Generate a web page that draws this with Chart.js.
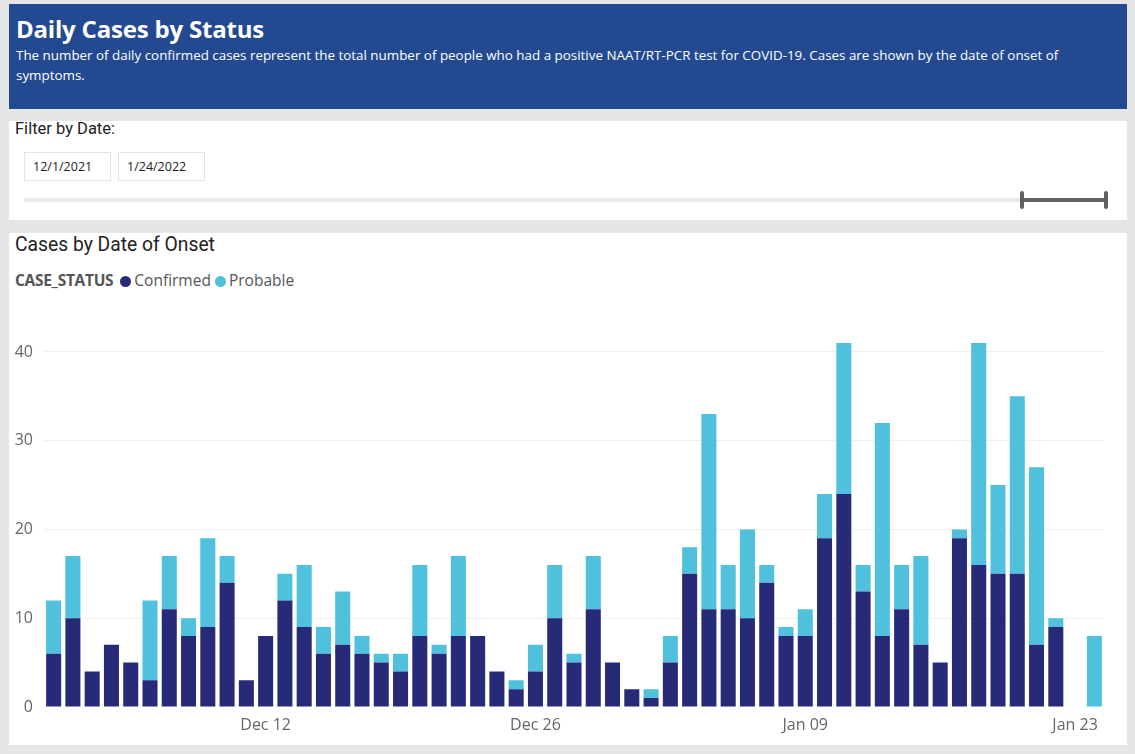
<!DOCTYPE html>
<html>
<head>
<meta charset="utf-8">
<script src="https://cdn.jsdelivr.net/npm/chart.js@4.4.1/dist/chart.umd.min.js"></script>
<style>
  html, body { margin: 0; padding: 0; }
  body { width: 1135px; height: 754px; background: #e6e6e6; position: relative; overflow: hidden; font-family: "Open Sans", sans-serif; }
  .panel { position: absolute; left: 9px; width: 1118px; background: #fff; }
  #header { top: 4px; height: 105px; background: #234a90; color: #fff; }
  #header h1 { position: absolute; left: 7px; top: 8px; margin: 0; font-size: 24px; font-weight: 700; letter-spacing: -0.2px; }
  #header p { position: absolute; left: 7px; top: 41px; margin: 0; font-size: 13.4px; line-height: 20px; white-space: nowrap; }
  #filter { top: 121px; height: 99px; }
  #filter .lbl { position: absolute; left: 6px; top: -2px; font-family: Roboto, sans-serif; font-size: 16.5px; color: #222; }
  .datebox { position: absolute; top: 31px; height: 29px; border: 1px solid #e3e3e3; box-sizing: border-box; font-size: 12.5px; color: #222; line-height: 27px; padding-left: 8px; }
  #track { position: absolute; left: 15px; top: 77px; width: 1083px; height: 4px; background: #eaeaea; }
  #range { position: absolute; left: 1013px; top: 77px; width: 84px; height: 4px; background: #5f5f5f; }
  .handle { position: absolute; top: 70px; width: 4px; height: 18px; border-radius: 2px; background: #5f5f5f; }
  #chartbox { top: 233px; height: 512px; }
  #ctitle { position: absolute; left: 6px; top: 0px; font-family: Roboto, sans-serif; font-size: 19.3px; color: #222; }
  #legend { position: absolute; left: 6px; top: 36px; font-size: 15.5px; color: #555; white-space: nowrap; }
  #legend b { color: #555; font-weight: 700; margin-right: 7px; letter-spacing: -0.3px; }
  #legend .dot { display: inline-block; width: 11px; height: 11px; border-radius: 50%; vertical-align: -1px; margin-right: 3px; }
  #wrap { position: absolute; left: 0; top: 54px; width: 1118px; height: 458px; }
</style>
</head>
<body>
<div id="header" class="panel">
  <h1>Daily Cases by Status</h1>
  <p>The number of daily confirmed cases represent the total number of people who had a positive NAAT/RT-PCR test for COVID-19. Cases are shown by the date of onset of<br>symptoms.</p>
</div>
<div id="filter" class="panel">
  <div class="lbl">Filter by Date:</div>
  <div class="datebox" style="left:15px;width:87px;">12/1/2021</div>
  <div class="datebox" style="left:109px;width:87px;">1/24/2022</div>
  <div id="track"></div>
  <div id="range"></div>
  <div class="handle" style="left:1011px"></div>
  <div class="handle" style="left:1095px"></div>
</div>
<div id="chartbox" class="panel">
  <div id="ctitle">Cases by Date of Onset</div>
  <div id="legend"><b>CASE_STATUS</b><span class="dot" style="background:#272a77"></span>Confirmed <span class="dot" style="background:#4fc1dc"></span>Probable</div>
  <div id="wrap"><canvas id="myChart"></canvas></div>
</div>
<script>
// one entry per day, Dec 1 2021 .. Jan 24 2022
const days = ['Dec 01','Dec 02','Dec 03','Dec 04','Dec 05','Dec 06','Dec 07','Dec 08','Dec 09','Dec 10',
  'Dec 11','Dec 12','Dec 13','Dec 14','Dec 15','Dec 16','Dec 17','Dec 18','Dec 19','Dec 20',
  'Dec 21','Dec 22','Dec 23','Dec 24','Dec 25','Dec 26','Dec 27','Dec 28','Dec 29','Dec 30','Dec 31',
  'Jan 01','Jan 02','Jan 03','Jan 04','Jan 05','Jan 06','Jan 07','Jan 08','Jan 09','Jan 10',
  'Jan 11','Jan 12','Jan 13','Jan 14','Jan 15','Jan 16','Jan 17','Jan 18','Jan 19','Jan 20',
  'Jan 21','Jan 22','Jan 23','Jan 24'];
const confirmed = [6,10,4,7,5,3,11,8,9,14, 3,8,12,9,6,7,6,5,4,8, 6,8,8,4,2,4,10,5,11,5,2,
  1,5,15,11,11,10,14,8,8,19, 24,13,8,11,7,5,19,16,15,15, 7,9,0,0];
const probable = [6,7,0,0,0,9,6,2,10,3, 0,0,3,7,3,6,2,1,2,8, 1,9,0,0,1,3,6,1,6,0,0,
  1,3,3,22,5,10,2,1,3,5, 17,3,24,5,10,0,1,25,10,20, 20,1,0,8];
const shownTicks = ['Dec 12','Dec 26','Jan 09','Jan 23'];
const yTicks = [0,10,20,30,40];

const ctx = document.getElementById('myChart');
new Chart(ctx, {
  type: 'bar',
  data: {
    labels: days,
    datasets: [
      { label: 'Confirmed', data: confirmed, backgroundColor: '#272a77', barPercentage: 0.78, categoryPercentage: 1 },
      { label: 'Probable', data: probable, backgroundColor: '#4fc1dc', barPercentage: 0.78, categoryPercentage: 1 }
    ]
  },
  options: {
    responsive: true,
    maintainAspectRatio: false,
    animation: false,
    layout: { padding: { top: 3, right: 23 } },
    plugins: { legend: { display: false }, tooltip: { enabled: false } },
    scales: {
      x: {
        stacked: true,
        grid: { display: false },
        border: { display: false },
        ticks: {
          autoSkip: false, maxRotation: 0, padding: 1,
          color: '#666', font: { family: 'Open Sans', size: 16 },
          callback: function (v, i) { return shownTicks.includes(days[i]) ? days[i] : ''; }
        },
        afterFit: function (s) { s.height = 38; }
      },
      y: {
        stacked: true,
        min: 0, max: 45,
        border: { display: false },
        grid: { drawTicks: false, color: function (c) { return c.tick.value === 0 ? 'rgba(0,0,0,0)' : '#efefef'; } },
        ticks: {
          stepSize: 10, includeBounds: false, padding: 11,
          color: '#666', font: { family: 'Open Sans', size: 16 },
          callback: function (v) { return yTicks.includes(v) ? v : ''; }
        },
        afterFit: function (s) { s.width = 35; }
      }
    }
  }
});
</script>
</body>
</html>
